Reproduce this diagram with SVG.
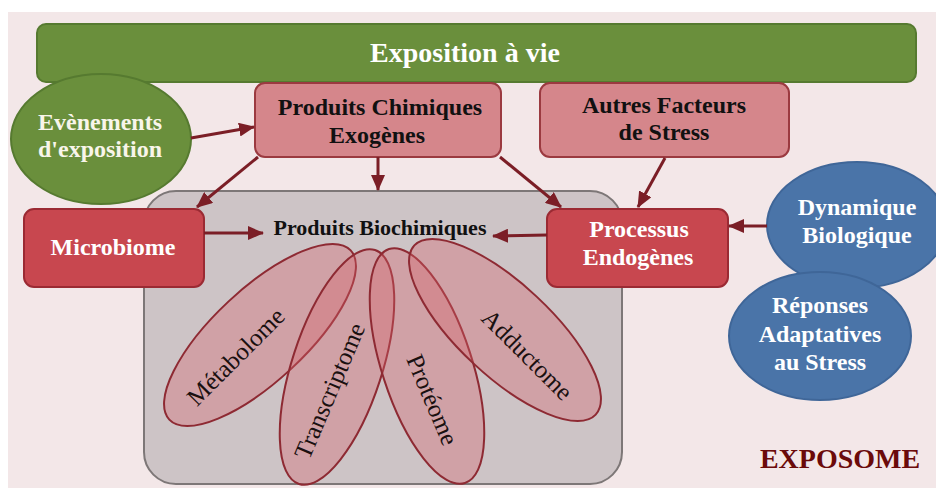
<svg xmlns="http://www.w3.org/2000/svg" width="936" height="491" viewBox="0 0 936 491">
<defs>
<style>
.t{font-family:"Liberation Serif","Times New Roman",serif;font-weight:bold;text-anchor:middle}
.w{fill:#ffffff}
.k{fill:#111111}
.p{font-family:"Liberation Serif","Times New Roman",serif;font-size:25px;fill:#1a1010;text-anchor:middle}
.pink{fill:#d5868b;stroke:#9b3a40;stroke-width:2}
.red{fill:#c8474f;stroke:#9b2a33;stroke-width:2}
.blue{fill:#4a74a8;stroke:#3f6698;stroke-width:2}
.petal{fill:#d8606a;fill-opacity:0.35;stroke:#8e2a33;stroke-width:2}
.arr{stroke:#7b1e26;stroke-width:3;fill:none;marker-end:url(#ah)}
</style>
<marker id="ah" markerUnits="userSpaceOnUse" markerWidth="16" markerHeight="14" viewBox="0 0 16 14" refX="15" refY="7" orient="auto">
<path d="M0,0 L16,7 L0,14 Z" fill="#7b1e26"/>
</marker>
</defs>
<rect x="0" y="0" width="936" height="491" fill="#ffffff"/>
<rect x="8" y="12" width="928" height="476" fill="#f3e7e8"/>

<g id="exposition-a-vie">
<rect x="37" y="24" width="879" height="58" rx="9" fill="#6a8f3c" stroke="#567a30" stroke-width="2"/>
<text class="t w" x="465" y="62" font-size="28">Exposition à vie</text>
</g>

<g id="biochimiques">
<rect x="144" y="191" width="478" height="293" rx="32" fill="#cdc4c6" stroke="#7d7777" stroke-width="2"/>
<text class="t k" x="380" y="235" font-size="22">Produits Biochimiques</text>
</g>

<g id="metabolome">
<ellipse class="petal" cx="260" cy="335" rx="124" ry="46" transform="rotate(-43 260 335)"/>
<text class="p" transform="translate(236,357) rotate(-45)" y="8">Métabolome</text>
</g>
<g id="transcriptome">
<ellipse class="petal" cx="337" cy="367" rx="123" ry="45" transform="rotate(-72 337 367)"/>
<text class="p" transform="translate(330,391) rotate(-67)" y="8">Transcriptome</text>
</g>
<g id="proteome">
<ellipse class="petal" cx="427" cy="366" rx="123" ry="45" transform="rotate(72 427 366)"/>
<text class="p" transform="translate(432,400) rotate(67)" y="8">Protéome</text>
</g>
<g id="adductome">
<ellipse class="petal" cx="505" cy="330" rx="124" ry="46" transform="rotate(43 505 330)"/>
<text class="p" transform="translate(527,355) rotate(45)" y="8">Adductome</text>
</g>

<g id="evenements">
<ellipse cx="101" cy="139" rx="90" ry="65" fill="#6a8f3c" stroke="#567a30" stroke-width="2"/>
<text class="t" x="100" y="130" font-size="24" fill="#f8f5ea">Evènements</text>
<text class="t" x="100" y="157" font-size="24" fill="#f8f5ea">d'exposition</text>
</g>

<g id="produits-chimiques">
<rect class="pink" x="255" y="83" width="246" height="74" rx="10"/>
<text class="t k" x="380" y="115" font-size="24">Produits Chimiques</text>
<text class="t k" x="377" y="143" font-size="24">Exogènes</text>
</g>

<g id="autres-facteurs">
<rect class="pink" x="540" y="83" width="249" height="74" rx="10"/>
<text class="t k" x="664" y="113" font-size="24">Autres Facteurs</text>
<text class="t k" x="664" y="140" font-size="24">de Stress</text>
</g>

<g id="microbiome">
<rect class="red" x="24" y="209" width="180" height="78" rx="10"/>
<text class="t w" x="113" y="255" font-size="24">Microbiome</text>
</g>

<g id="processus">
<rect class="red" x="547" y="209" width="181" height="78" rx="10"/>
<text class="t w" x="639" y="237" font-size="24">Processus</text>
<text class="t w" x="638" y="265" font-size="24">Endogènes</text>
</g>

<g id="dynamique">
<ellipse class="blue" cx="857" cy="225" rx="90" ry="63"/>
<text class="t w" x="857" y="215" font-size="24">Dynamique</text>
<text class="t w" x="857" y="243" font-size="24">Biologique</text>
</g>

<g id="reponses">
<ellipse class="blue" cx="820" cy="336" rx="91" ry="64"/>
<text class="t w" x="820" y="313" font-size="24">Réponses</text>
<text class="t w" x="820" y="342" font-size="24">Adaptatives</text>
<text class="t w" x="820" y="370" font-size="24">au Stress</text>
</g>

<g id="exposome">
<text class="t" x="840" y="468" font-size="28" fill="#6b0a0a">EXPOSOME</text>
</g>

<g id="connectors">
<line class="arr" x1="191" y1="138" x2="254" y2="127"/>
<line class="arr" x1="258" y1="157" x2="197" y2="207"/>
<line class="arr" x1="378" y1="157" x2="378" y2="190"/>
<line class="arr" x1="500" y1="157" x2="561" y2="207"/>
<line class="arr" x1="665" y1="158" x2="638" y2="207"/>
<line class="arr" x1="204" y1="233" x2="263" y2="233"/>
<line class="arr" x1="547" y1="235" x2="493" y2="236"/>
<line class="arr" x1="767" y1="226" x2="729" y2="226"/>
</g>
</svg>
